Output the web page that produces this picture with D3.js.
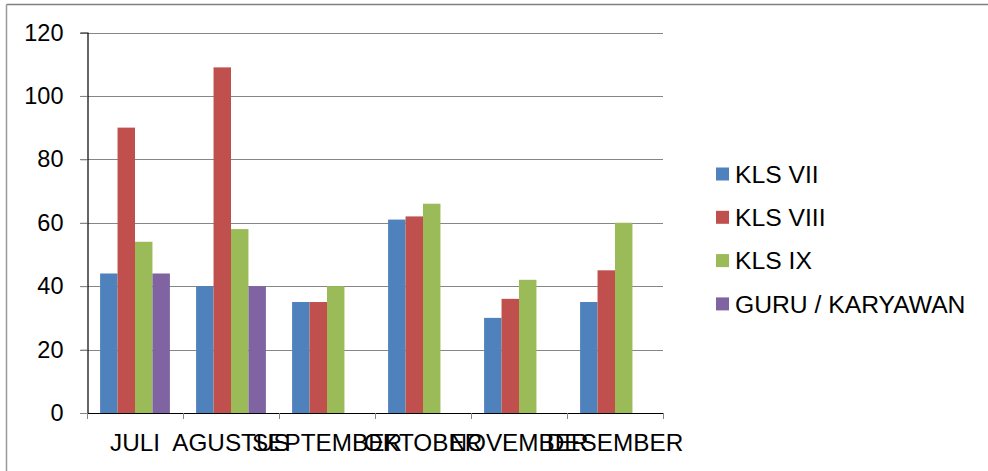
<!DOCTYPE html>
<html>
<head>
<meta charset="utf-8">
<script src="https://cdn.jsdelivr.net/npm/d3@7"></script>
<style>
html,body{margin:0;padding:0;background:#fff;}
svg{display:block;}
text{font-family:"Liberation Sans",Arial,sans-serif;fill:#000;}
</style>
</head>
<body>
<svg id="chart" width="988" height="471"></svg>
<script>
const categories = ["JULI","AGUSTUS","SEPTEMBER","OKTOBER","NOVEMBER","DESEMBER"];
const seriesNames = ["KLS VII","KLS VIII","KLS IX","GURU / KARYAWAN"];
const klsVII  = [44, 40, 35, 61, 30, 35];
const klsVIII = [90, 109, 35, 62, 36, 45];
const klsIX   = [54, 58, 40, 66, 42, 60];
const guru    = [44, 40, 0, 0, 0, 0];
const yTicks  = [0, 20, 40, 60, 80, 100, 120];
const colors  = ["#4F81BD","#C0504D","#9BBB59","#8064A2"];

const seriesValues = [klsVII, klsVIII, klsIX, guru];

const svg = d3.select("#chart");
const plot = {left: 87, right: 663, top: 32.5, bottom: 413};

// outer frame (top and left edges visible)
svg.append("line").attr("x1",6.5).attr("x2",988).attr("y1",4.5).attr("y2",4.5)
  .attr("stroke","#7f7f7f").attr("stroke-width",1.5);
svg.append("line").attr("x1",6.5).attr("x2",6.5).attr("y1",4.5).attr("y2",471)
  .attr("stroke","#9a9a9a").attr("stroke-width",1.5);

const x0 = d3.scaleBand().domain(categories).range([plot.left, plot.right]).paddingInner(0).paddingOuter(0);
const bw = x0.bandwidth() / 5.5; // gap width 150%
const x1 = d3.scaleBand().domain(seriesNames).range([0, bw*4]);
const y = d3.scaleLinear().domain([0,120]).range([plot.bottom, plot.top]);

// gridlines
svg.append("g").selectAll("line").data(yTicks.filter(d=>d>0)).join("line")
  .attr("x1", plot.left - 7).attr("x2", plot.right)
  .attr("y1", d=>Math.round(y(d))+0.5).attr("y2", d=>Math.round(y(d))+0.5)
  .attr("stroke","#868686").attr("stroke-width",1);

// y axis
const yAxis = d3.axisLeft(y).tickValues(yTicks).tickSize(7).tickPadding(17).tickFormat(d3.format("d"));
const gy = svg.append("g").attr("transform",`translate(${plot.left+0.5},0)`).call(yAxis);
gy.select(".domain").attr("stroke","#000").attr("stroke-width",1.2);
gy.selectAll(".tick line").attr("stroke","#868686");
gy.selectAll(".tick text").attr("font-size",23.5).attr("font-family","Liberation Sans, Arial, sans-serif").attr("fill","#000");

// bars
const groups = svg.append("g").selectAll("g").data(categories).join("g")
  .attr("transform", c => `translate(${x0(c) + bw*0.75},0)`);
groups.selectAll("rect").data((c,i) => seriesNames.map((s,j)=>({s, j, v: seriesValues[j][i]})))
  .join("rect")
  .filter(d => d.v > 0)
  .attr("x", d => x1(d.s))
  .attr("width", x1.bandwidth())
  .attr("y", d => y(d.v))
  .attr("height", d => y(0) - y(d.v))
  .attr("fill", d => colors[d.j]);

// x axis
svg.append("line").attr("x1",plot.left).attr("x2",plot.right).attr("y1",plot.bottom+0.5).attr("y2",plot.bottom+0.5)
  .attr("stroke","#000").attr("stroke-width",1.2);
// tick marks at category boundaries
const bounds = categories.map(c=>x0(c)).concat([plot.right]);
svg.append("g").selectAll("line").data(bounds).join("line")
  .attr("x1", d=>Math.round(d)+0.5).attr("x2", d=>Math.round(d)+0.5)
  .attr("y1", plot.bottom).attr("y2", plot.bottom+6)
  .attr("stroke","#868686").attr("stroke-width",1);
// category labels
svg.append("g").selectAll("text").data(categories).join("text")
  .attr("x", c => x0(c) + x0.bandwidth()/2)
  .attr("y", 450.5)
  .attr("text-anchor","middle")
  .attr("font-size",24.3)
  .text(c=>c);

// legend
const legend = svg.append("g").selectAll("g").data(seriesNames).join("g")
  .attr("transform",(d,i)=>`translate(716,${174 + i*43.3})`);
legend.append("rect").attr("x",0).attr("y",-6.5).attr("width",13).attr("height",13)
  .attr("fill",(d,i)=>colors[i]);
legend.append("text").attr("x",19).attr("y",0).attr("dy","0.35em")
  .attr("font-size",24.7).text(d=>d);
</script>
</body>
</html>
